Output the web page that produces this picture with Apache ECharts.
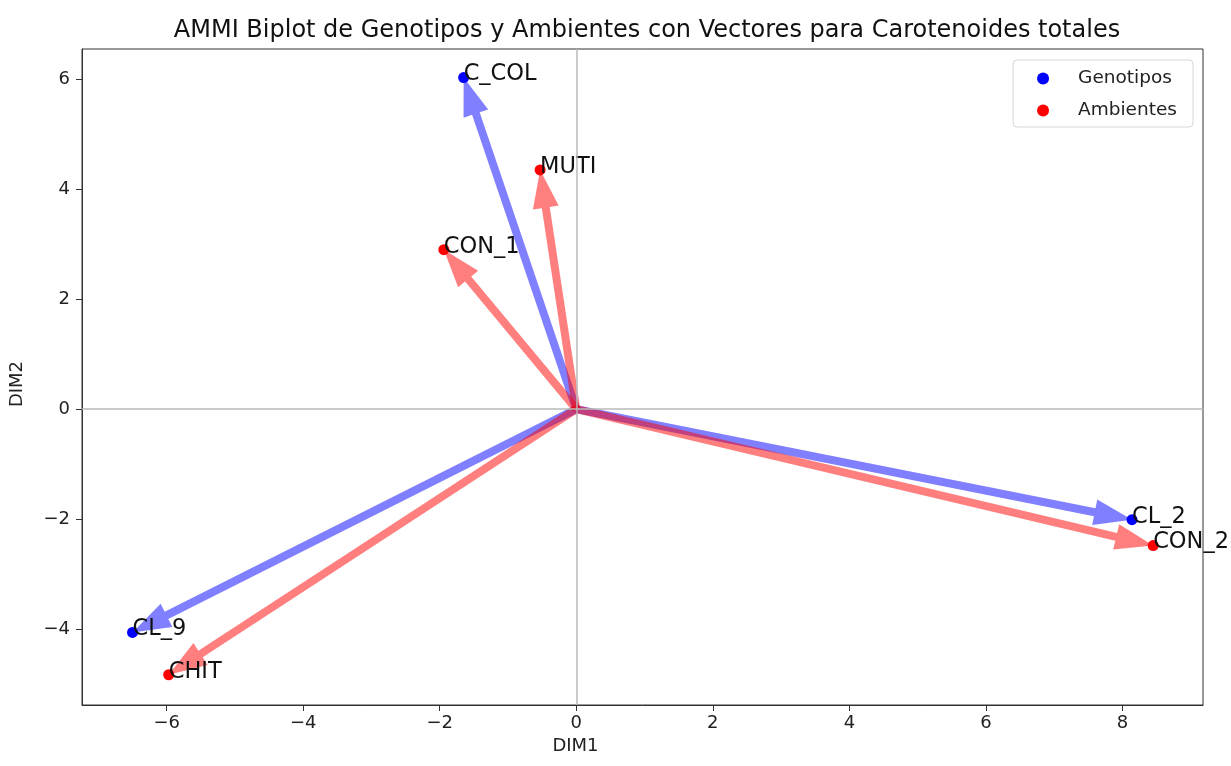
<!DOCTYPE html>
<html>
<head>
<meta charset="utf-8">
<title>AMMI Biplot</title>
<script src="https://cdn.jsdelivr.net/npm/echarts@6/dist/echarts.min.js"></script>
<style>
  html, body { margin: 0; padding: 0; background: #fff; }
  #chart { width: 1231px; height: 766px; }
</style>
</head>
<body>
<div id="chart"></div>
<script>
// 基因型 (Genotipos)
const genoNames = ['C_COL', 'CL_2', 'CL_9'];
const genoDim1 = [-1.65, 8.14, -6.50];
const genoDim2 = [6.03, -2.01, -4.06];

// 环境 (Ambientes)
const ambNames = ['MUTI', 'CON_1', 'CON_2', 'CHIT'];
const ambDim1 = [-0.53, -1.94, 8.45, -5.97];
const ambDim2 = [4.35, 2.90, -2.48, -4.83];

// 刻度
const xTicks = [-6, -4, -2, 0, 2, 4, 6, 8];
const yTicks = [-4, -2, 0, 2, 4, 6];

const FONT = 'DejaVu Sans';

const chart = echarts.init(document.getElementById('chart'));

function toPoints(names, xs, ys) {
  return names.map((n, i) => ({ name: n, value: [xs[i], ys[i]] }));
}

/**
 * 箭头 (从原点到点)
 */
function arrowSeries(name, color, points) {
  return {
    name: name,
    type: 'custom',
    z: 2,
    silent: true,
    data: points.map(p => p.value),
    encode: { x: 0, y: 1 },
    renderItem(params, api) {
      const p0 = api.coord([0, 0]);
      const p1 = api.coord([api.value(0), api.value(1)]);
      const dx = p1[0] - p0[0];
      const dy = p1[1] - p0[1];
      const len = Math.sqrt(dx * dx + dy * dy);
      const ux = dx / len, uy = dy / len;
      const nx = -uy, ny = ux;
      const w = 4, hw = 13, hl = 38;
      const bx = p1[0] - ux * hl, by = p1[1] - uy * hl;
      const pts = [
        [p0[0] + nx * w, p0[1] + ny * w],
        [bx + nx * w, by + ny * w],
        [bx + nx * hw, by + ny * hw],
        [p1[0], p1[1]],
        [bx - nx * hw, by - ny * hw],
        [bx - nx * w, by - ny * w],
        [p0[0] - nx * w, p0[1] - ny * w],
      ];
      return {
        type: 'polygon',
        shape: { points: pts },
        style: { fill: color, opacity: 0.5 },
      };
    },
  };
}

function pointSeries(name, color, points) {
  return {
    name: name,
    type: 'scatter',
    z: 3,
    symbol: 'circle',
    symbolSize: 11,
    itemStyle: { color: color, opacity: 1 },
    data: points,
    label: {
      show: true,
      formatter: '{b}',
      position: [5.5, 2.5],
      align: 'left',
      verticalAlign: 'middle',
      color: '#111',
      fontFamily: FONT,
      fontSize: 22.5,
    },
  };
}

const genoPts = toPoints(genoNames, genoDim1, genoDim2);
const ambPts = toPoints(ambNames, ambDim1, ambDim2);

const minus = v => String(v).replace('-', '\u2212');

chart.setOption({
  backgroundColor: '#fff',
  animation: false,
  textStyle: { fontFamily: FONT },
  title: {
    text: 'AMMI Biplot de Genotipos y Ambientes con Vectores para Carotenoides totales',
    left: 642,
    textAlign: 'center',
    top: 14,
    textStyle: { fontFamily: FONT, fontSize: 24, fontWeight: 'normal', color: '#111' },
  },
  legend: {
    orient: 'vertical',
    right: 38,
    top: 60,
    data: ['Genotipos', 'Ambientes'],
    icon: 'circle',
    itemWidth: 12,
    itemHeight: 12,
    itemGap: 13,
    padding: [9, 16, 7, 24],
    borderColor: '#d6d6d6',
    borderWidth: 1,
    borderRadius: 4,
    backgroundColor: 'rgba(255,255,255,0.8)',
    textStyle: { fontFamily: FONT, fontSize: 18.5, color: '#222', padding: [0, 0, 0, 24] },
  },
  grid: {
    left: 82,
    right: 28,
    top: 49,
    bottom: 61,
    show: true,
    borderColor: '#333',
    borderWidth: 1,
    backgroundColor: 'transparent',
  },
  xAxis: {
    type: 'value',
    min: -7.24,
    max: 9.18,
    name: 'DIM1',
    nameLocation: 'middle',
    nameGap: 32,
    nameTextStyle: { fontFamily: FONT, fontSize: 18, color: '#222', padding: [0, 134, 0, 0] },
    axisLine: { onZero: false, lineStyle: { color: '#333', width: 1 } },
    axisTick: { show: true, length: 6, customValues: xTicks, lineStyle: { color: '#333' } },
    axisLabel: {
      customValues: xTicks,
      margin: 9,
      fontSize: 18,
      color: '#222',
      fontFamily: FONT,
      formatter: minus,
    },
    splitLine: { show: false },
  },
  yAxis: {
    type: 'value',
    min: -5.38,
    max: 6.55,
    name: 'DIM2',
    nameLocation: 'middle',
    nameGap: 56,
    nameRotate: 90,
    nameTextStyle: { fontFamily: FONT, fontSize: 18, color: '#222', padding: [0, 14, 0, 0] },
    axisLine: { onZero: false, lineStyle: { color: '#333', width: 1 } },
    axisTick: { show: true, length: 6, customValues: yTicks, lineStyle: { color: '#333' } },
    axisLabel: {
      customValues: yTicks,
      margin: 12,
      fontSize: 18,
      color: '#222',
      fontFamily: FONT,
      formatter: minus,
    },
    splitLine: { show: false },
  },
  series: [
    {
      name: 'zero',
      type: 'line',
      data: [],
      silent: true,
      z: 1,
      markLine: {
        silent: true,
        symbol: 'none',
        label: { show: false },
        lineStyle: { color: '#b8b8b8', width: 1.5, type: 'solid' },
        data: [{ xAxis: 0 }, { yAxis: 0 }],
      },
    },
    arrowSeries('arrG', 'blue', genoPts),
    arrowSeries('arrA', 'red', ambPts),
    pointSeries('Genotipos', '#0000ff', genoPts),
    pointSeries('Ambientes', '#ff0000', ambPts),
  ],
});
</script>
</body>
</html>
